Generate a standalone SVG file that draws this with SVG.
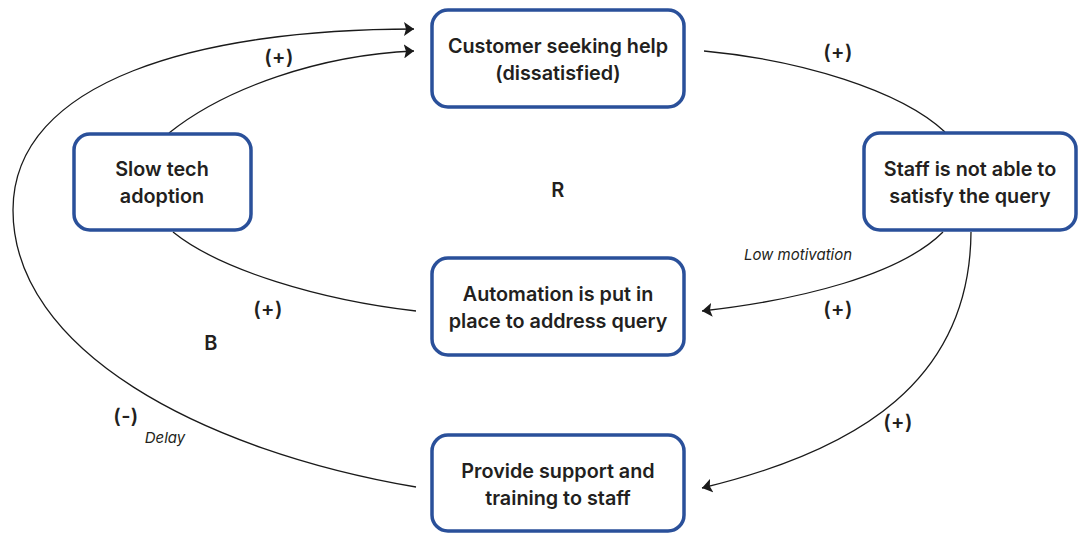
<svg xmlns="http://www.w3.org/2000/svg" width="1081" height="533" viewBox="0 0 1081 533">
<style>
.box{fill:#fff;stroke:#2a509a;stroke-width:3.5}
.t{font-family:Inter,"Liberation Sans",sans-serif;font-weight:600;font-size:19.8px;fill:#231f20;text-anchor:middle}
.l{font-family:Inter,"Liberation Sans",sans-serif;font-weight:600;font-size:20px;letter-spacing:0.4px;fill:#231f20;text-anchor:middle}
.i{font-family:Inter,"Liberation Sans",sans-serif;font-style:italic;font-size:15px;fill:#231f20;text-anchor:middle}
.c{fill:none;stroke:#1a1a1a;stroke-width:1.3}
</style>
<defs>
<marker id="ah" viewBox="0 0 10 14" refX="10" refY="7" markerWidth="10" markerHeight="14" markerUnits="userSpaceOnUse" orient="auto">
<path d="M0,0 L10,7 L0,14 L2,7 Z" fill="#1a1a1a"/>
</marker>
</defs>
<rect width="1081" height="533" fill="#fff"/>
<g id="connectors">
<path class="c" d="M704,51 C800,60 900,90 945,132"/>
<path class="c" d="M943,232 C900,275 800,300 702,311" marker-end="url(#ah)"/>
<path class="c" d="M971,232 C970,380 860,450 702,488" marker-end="url(#ah)"/>
<path class="c" d="M416,311 C320,300 220,270 173,232"/>
<path class="c" d="M169,133 C225,88 320,55 414,51" marker-end="url(#ah)"/>
<path class="c" d="M416,487 C200,450 13,350 13,210 C13,80 200,29 414,29" marker-end="url(#ah)"/>
</g>
<g id="labels">
<text class="l" x="838" y="59">(+)</text>
<text class="i" x="798" y="260">Low motivation</text>
<text class="l" x="838" y="316">(+)</text>
<text class="l" x="898" y="429">(+)</text>
<text class="l" x="279" y="64">(+)</text>
<text class="l" x="268" y="316">(+)</text>
<text class="l" x="211" y="350">B</text>
<text class="l" x="558" y="197">R</text>
<text class="l" x="126" y="423">(-)</text>
<text class="i" x="165" y="443">Delay</text>
</g>
<g id="customer">
<rect class="box" x="432" y="10" width="252" height="97" rx="16"/>
<text class="t" x="558" y="53">Customer seeking help</text>
<text class="t" x="558" y="80">(dissatisfied)</text>
</g>
<g id="staff">
<rect class="box" x="864" y="133" width="212" height="97" rx="16"/>
<text class="t" x="970" y="176">Staff is not able to</text>
<text class="t" x="970" y="203">satisfy the query</text>
</g>
<g id="slowtech">
<rect class="box" x="74" y="134" width="177" height="96" rx="16"/>
<text class="t" x="162" y="176">Slow tech</text>
<text class="t" x="162" y="203">adoption</text>
</g>
<g id="automation">
<rect class="box" x="432" y="258" width="252" height="97" rx="16"/>
<text class="t" x="558" y="301">Automation is put in</text>
<text class="t" x="558" y="328">place to address query</text>
</g>
<g id="provide">
<rect class="box" x="432" y="435" width="252" height="96" rx="16"/>
<text class="t" x="558" y="478">Provide support and</text>
<text class="t" x="558" y="505">training to staff</text>
</g>
</svg>
